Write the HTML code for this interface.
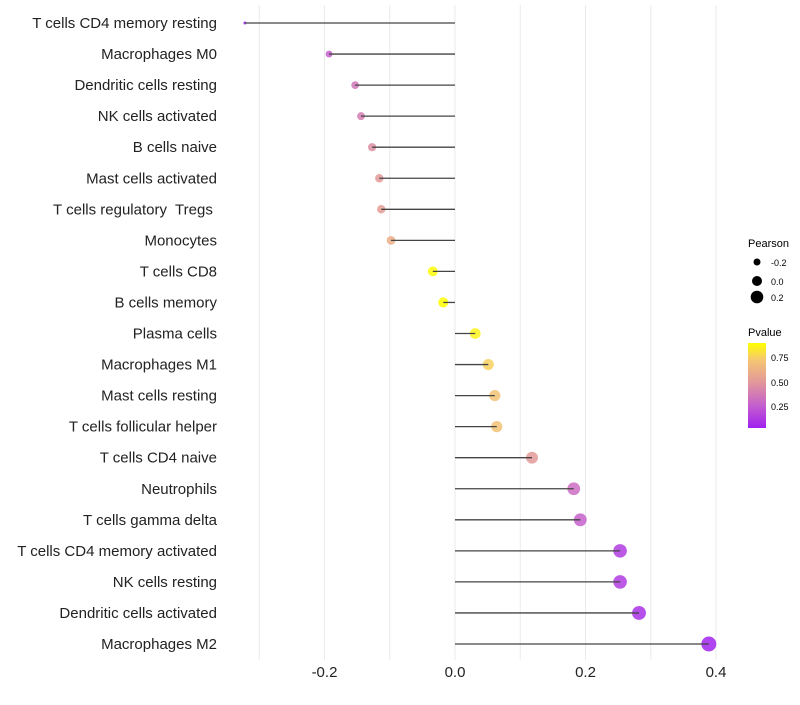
<!DOCTYPE html>
<html><head><meta charset="utf-8"><style>
body{margin:0;background:#fff;font-family:"Liberation Sans",sans-serif}
text{white-space:pre}
</style></head><body>
<svg id="chart" width="800" height="700" xmlns="http://www.w3.org/2000/svg" font-family="Liberation Sans, sans-serif" xml:space="preserve">
<defs><linearGradient id="pg" x1="0" y1="1" x2="0" y2="0">
<stop offset="0" stop-color="#A020F0"/><stop offset="0.27" stop-color="#C560CC"/><stop offset="0.55" stop-color="#E39A98"/><stop offset="0.8" stop-color="#F5C672"/><stop offset="1" stop-color="#FFFF00"/></linearGradient></defs>
<g id="grid"></g><g id="marks"></g><g id="labels"></g>
<g>
<text x="748" y="247" font-size="11">Pearson</text>
<circle cx="757" cy="262" r="3.5" fill="#000"/><text x="771" y="266" font-size="9">-0.2</text>
<circle cx="757" cy="281" r="5" fill="#000"/><text x="771" y="285" font-size="9">0.0</text>
<circle cx="757" cy="297" r="6.3" fill="#000"/><text x="771" y="301" font-size="9">0.2</text>
<text x="748" y="336" font-size="11">Pvalue</text>
<rect x="748" y="343" width="18" height="85" fill="url(#pg)"/>
<text x="771" y="361" font-size="9">0.75</text><text x="771" y="386" font-size="9">0.50</text><text x="771" y="410" font-size="9">0.25</text>
</g>
</svg>
<script>
const cells=["T cells CD4 memory resting","Macrophages M0","Dendritic cells resting","NK cells activated","B cells naive","Mast cells activated","T cells regulatory  Tregs ","Monocytes","T cells CD8","B cells memory","Plasma cells","Macrophages M1","Mast cells resting","T cells follicular helper","T cells CD4 naive","Neutrophils","T cells gamma delta","T cells CD4 memory activated","NK cells resting","Dendritic cells activated","Macrophages M2"];
const pearson=[-0.322,-0.193,-0.153,-0.144,-0.127,-0.116,-0.113,-0.098,-0.034,-0.018,0.031,0.051,0.061,0.064,0.118,0.182,0.192,0.253,0.253,0.282,0.389];
const pvalue=[0.03,0.25,0.35,0.38,0.45,0.5,0.52,0.6,0.88,0.89,0.85,0.75,0.7,0.7,0.5,0.3,0.25,0.12,0.12,0.08,0.03];
const xTicks=[-0.2,0,0.2,0.4];
const xTickLabels=["-0.2","0.0","0.2","0.4"];
const NS="http://www.w3.org/2000/svg";
const xs=v=>455+v*652.5;
const ys=i=>23+i*31.05;
const pmin=Math.min(...pearson),pmax=Math.max(...pearson);
const rs=v=>Math.sqrt(2.25+54*(v-pmin)/(pmax-pmin));
const stops=[[0.02,[160,32,240]],[0.25,[197,96,204]],[0.5,[227,154,152]],[0.72,[245,198,114]],[0.89,[255,255,0]]];
function col(p){for(let k=0;k<stops.length-1;k++){const a=stops[k],b=stops[k+1];if(p<=b[0]||k==stops.length-2){let t=Math.min(1,Math.max(0,(p-a[0])/(b[0]-a[0])));return 'rgb('+a[1].map((c,j)=>Math.round(c+(b[1][j]-c)*t)).join(',')+')';}}}
function mk(t,at,parent){const e=document.createElementNS(NS,t);for(const k in at)e.setAttribute(k,at[k]);parent.appendChild(e);return e;}
const grid=document.getElementById('grid'),marks=document.getElementById('marks'),labels=document.getElementById('labels');
for(let v=-0.3;v<=0.41;v+=0.1){const g=mk('line',{x1:xs(v),x2:xs(v),y1:5,y2:660,stroke:'#ebebeb','stroke-width':1},grid);

}
xTicks.forEach((v,i)=>{const t=mk('text',{x:xs(v),y:677,'font-size':15,'text-anchor':'middle',fill:'#222'},labels);t.textContent=xTickLabels[i];

});
cells.forEach((c,i)=>{
const t=mk('text',{x:217,y:ys(i)+5,'font-size':15,'text-anchor':'end',fill:'#222'},labels);t.textContent=c;


const p=mk('circle',{cx:xs(pearson[i]),cy:ys(i),r:rs(pearson[i]),fill:col(pvalue[i]),'fill-opacity':0.85},marks);


const l=mk('line',{x1:xs(pearson[i]),x2:xs(0),y1:ys(i),y2:ys(i),stroke:'#444','stroke-width':1.3},marks);


});
</script>
</body></html>
